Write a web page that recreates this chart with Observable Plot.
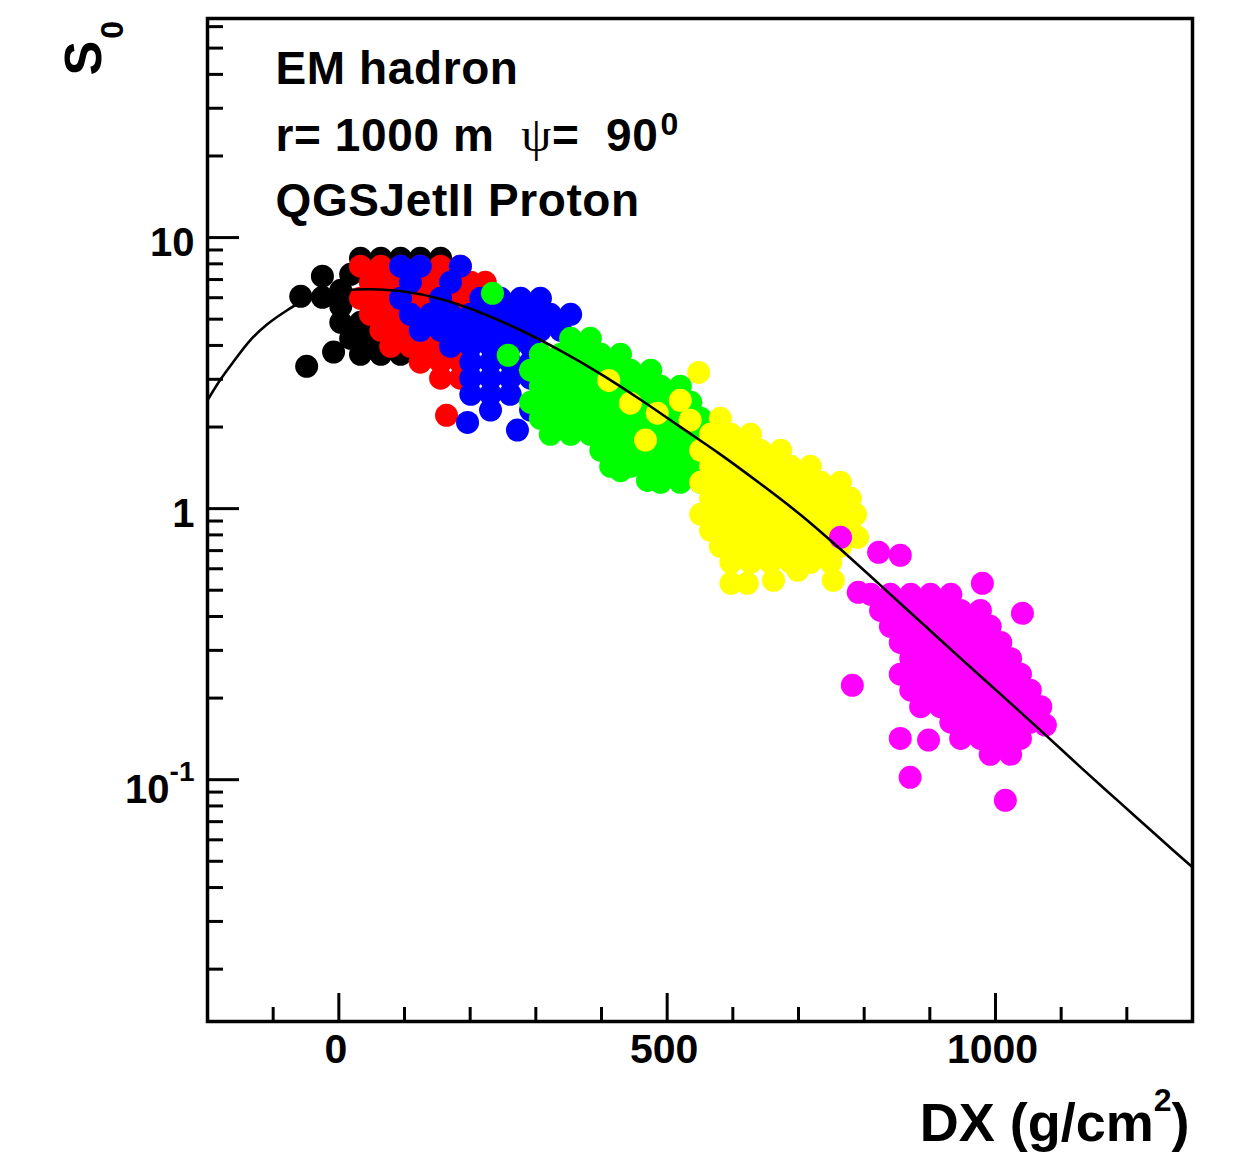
<!DOCTYPE html>
<html><head><meta charset="utf-8">
<script src="https://cdn.jsdelivr.net/npm/d3@7"></script>
<script src="https://cdn.jsdelivr.net/npm/@observablehq/plot@0.6"></script>
<style>
html,body{margin:0;padding:0;background:#fff;}
</style></head><body><div id="chart"></div>
<script>
// ---- data: [DX (g/cm^2), S0] ----
const blackPts = [[-58,6.07],[-25,7.20],[-25,6.02],[-49,3.35],[-8,3.78],
  [33,8.39],[64,8.39],[94,8.39],[124,8.39],[155,8.39],
  [18,7.32],[3,6.39],[3,5.58],[3,4.87],[33,4.87],[18,4.25],[48,4.25],
  [33,3.71],[64,3.71],[94,3.71],[124,3.71]];
const redPts = [[33,7.84],[64,7.84],[94,7.84],[124,7.84],[155,7.84],[185,7.84],
  [48,6.84],[79,6.84],[109,6.84],[140,6.84],[170,6.84],[201,6.84],[223,6.84],
  [33,5.97],[64,5.97],[94,5.97],[124,5.97],[155,5.97],[185,5.97],
  [48,5.21],[79,5.21],[109,5.21],[140,5.21],[170,5.21],
  [64,4.55],[94,4.55],[124,4.55],[155,4.55],[185,4.55],
  [79,3.97],[109,3.97],[140,3.97],[170,3.97],
  [124,3.47],[155,3.47],[185,3.47],[155,3.03],[185,3.03],[164,2.21]];
const bluePts = [[94,7.84],[124,7.84],[185,7.84],[109,6.84],[170,6.84],
  [94,5.97],[155,5.97],[216,5.97],[246,5.97],[277,5.97],[307,5.97],
  [109,5.21],[140,5.21],[170,5.21],[201,5.21],[231,5.21],[261,5.21],[292,5.21],[322,5.21],[353,5.21],
  [124,4.55],[155,4.55],[185,4.55],[216,4.55],[246,4.55],[277,4.55],[307,4.55],[338,4.55],
  [170,3.97],[201,3.97],[231,3.97],[261,3.97],[292,3.97],
  [201,3.47],[231,3.47],[261,3.47],[292,3.47],
  [201,3.03],[231,3.03],[261,3.03],[292,3.03],
  [201,2.64],[231,2.64],[261,2.64],[322,2.64],
  [231,2.31],[292,2.31],[196,2.08],[272,1.95]];
const greenPts = [[234,6.23],[258,3.68],[353,4.25],[383,4.25],
  [307,3.71],[338,3.71],[368,3.71],[399,3.71],[429,3.71],
  [292,3.24],[322,3.24],[353,3.24],[383,3.24],[414,3.24],[444,3.24],[475,3.24],
  [307,2.83],[338,2.83],[368,2.83],[399,2.83],[429,2.83],[459,2.83],[490,2.83],[520,2.83],
  [292,2.467],[322,2.467],[353,2.467],[383,2.467],[414,2.467],[444,2.467],[475,2.467],[505,2.467],[536,2.467],
  [307,2.154],[338,2.154],[368,2.154],[399,2.154],[429,2.154],[459,2.154],[490,2.154],[520,2.154],[551,2.154],
  [322,1.880],[353,1.880],[383,1.880],[414,1.880],[444,1.880],[475,1.880],[505,1.880],[536,1.880],
  [399,1.641],[429,1.641],[459,1.641],[490,1.641],[520,1.641],
  [414,1.433],[444,1.433],[475,1.433],[505,1.433],[536,1.433],
  [490,1.251],[520,1.251],[551,1.251],[429,1.38],[470,1.27]];
const yellowPts = [[411,2.97],[444,2.45],[467,1.79],[485,2.25],[520,2.51],[548,3.18],[535,2.12],
  [581,2.154],[566,1.880],[597,1.880],[627,1.880],
  [551,1.641],[581,1.641],[612,1.641],[642,1.641],[673,1.641],
  [566,1.433],[597,1.433],[627,1.433],[657,1.433],[688,1.433],[718,1.433],
  [551,1.251],[581,1.251],[612,1.251],[642,1.251],[673,1.251],[703,1.251],[734,1.251],[764,1.251],
  [566,1.092],[597,1.092],[627,1.092],[657,1.092],[688,1.092],[718,1.092],[749,1.092],[779,1.092],
  [551,0.953],[581,0.953],[612,0.953],[642,0.953],[673,0.953],[703,0.953],[734,0.953],[764,0.953],[787,0.953],
  [566,0.832],[597,0.832],[627,0.832],[657,0.832],[688,0.832],[718,0.832],[749,0.832],[779,0.832],
  [581,0.726],[612,0.726],[642,0.726],[673,0.726],[703,0.726],[734,0.726],[764,0.726],
  [597,0.634],[627,0.634],[657,0.634],[688,0.634],[718,0.634],[749,0.634],
  [597,0.530],[622,0.530],[662,0.544],[699,0.592],[753,0.544],[790,0.784]];
const magentaPts = [[764,0.784],[782,0.223],[855,0.142],[898,0.140],[870,0.102],[1015,0.0839],
  [980,0.530],[1041,0.411],[822,0.690],[855,0.673],[791,0.491],
  [810,0.483],[840,0.483],[871,0.483],[901,0.483],[932,0.483],
  [825,0.421],[855,0.421],[886,0.421],[916,0.421],[947,0.421],[977,0.421],
  [840,0.368],[871,0.368],[901,0.368],[932,0.368],[962,0.368],[992,0.368],
  [855,0.321],[886,0.321],[916,0.321],[947,0.321],[977,0.321],[1008,0.321],
  [871,0.280],[901,0.280],[932,0.280],[962,0.280],[992,0.280],[1023,0.280],
  [855,0.245],[886,0.245],[916,0.245],[947,0.245],[977,0.245],[1008,0.245],[1038,0.245],
  [871,0.214],[901,0.214],[932,0.214],[962,0.214],[992,0.214],[1023,0.214],[1053,0.214],
  [886,0.186],[916,0.186],[947,0.186],[977,0.186],[1008,0.186],[1038,0.186],[1069,0.186],
  [932,0.163],[962,0.163],[992,0.163],[1023,0.163],[1053,0.163],[1076,0.159],
  [947,0.142],[977,0.142],[1008,0.142],[1038,0.142],
  [992,0.124],[1023,0.124]];
const fitCurve = [[-200,2.510],[-180,3.000],[-160,3.495],[-135,4.179],[-109,4.787],[-81,5.347],[-58,5.771],
  [-28,6.151],[3,6.364],[25,6.431],[48,6.447],[94,6.349],[155,5.932],[216,5.284],[277,4.549],[338,3.818],
  [399,3.135],[459,2.527],[520,2.002],[581,1.586],[642,1.235],[703,0.949],[764,0.708],[825,0.521],
  [886,0.382],[947,0.2803],[1008,0.2064],[1069,0.1517],[1129,0.1115],[1190,0.0821],[1251,0.0605],[1300,0.0475]];

const seriesColors = ["#000000","#ff0000","#0000ff","#00ff00","#ffff00","#ff00ff"];
const seriesData = [blackPts, redPts, bluePts, greenPts, yellowPts, magentaPts];

const xMajor = [0, 500, 1000];
const xMinor = [-100, 100, 200, 300, 400, 600, 700, 800, 900, 1100, 1200];
const xTickLabels = ["0", "500", "1000"];
const yMajor = [0.1, 1, 10];
const yMinor = [0.02,0.03,0.04,0.05,0.06,0.07,0.08,0.09,0.2,0.3,0.4,0.5,0.6,0.7,0.8,0.9,2,3,4,5,6,7,8,9,20,30,40,50,60];
const yTickLabels = ["10^{-1}", "1", "10"];
const annoLines = ["EM hadron", "r= 1000 m  ψ=  90^{0}", "QGSJetII Proton"];
const xTitle = "DX (g/cm^{2})";
const yTitle = "S_{0}";

// ---- layout ----
const W = 1239, H = 1156, mL = 207, mR = 47, mT = 18, mB = 135;
const plotW = W - mL - mR, plotH = H - mT - mB;
const FONT = "'Liberation Sans', Arial, Helvetica, sans-serif";

const marks = [];
seriesData.forEach((pts, i) => {
  marks.push(Plot.dot(pts, {x: d => d[0], y: d => d[1], r: 11.5, fill: seriesColors[i], stroke: null}));
});
marks.push(Plot.line(fitCurve, {x: d => d[0], y: d => d[1], curve: "catmull-rom", stroke: "black", strokeWidth: 2.6}));
marks.push(Plot.tickX(xMajor, {x: d => d, insetTop: plotH - 28, stroke: "black", strokeWidth: 3}));
marks.push(Plot.tickX(xMinor, {x: d => d, insetTop: plotH - 14, stroke: "black", strokeWidth: 3}));
marks.push(Plot.tickY(yMajor, {y: d => d, insetRight: plotW - 32, stroke: "black", strokeWidth: 3}));
marks.push(Plot.tickY(yMinor, {y: d => d, insetRight: plotW - 16, stroke: "black", strokeWidth: 3}));
marks.push(Plot.frame({stroke: "black", strokeWidth: 3.5}));
marks.push(Plot.axisX({ticks: xMajor, tickSize: 0, tickPadding: 12, dx: -3,
  tickFormat: d => xTickLabels[xMajor.indexOf(d)], fontSize: 41, fontWeight: "bold", label: null}));
marks.push(Plot.axisY({ticks: yMajor, tickSize: 0, tickPadding: 13, dy: 6,
  tickFormat: d => yTickLabels[yMajor.indexOf(d)], fontSize: 40, fontWeight: "bold", label: null}));
const annoDy = [65, 132, 197];
annoLines.forEach((s, i) => {
  marks.push(Plot.text([s], {text: d => d, frameAnchor: "top-left", dx: 68, dy: annoDy[i],
    textAnchor: "start", lineAnchor: "bottom", fontSize: 46, fontWeight: "bold"}));
});
marks.push(Plot.text([xTitle], {text: d => d, frameAnchor: "bottom-right", dx: -3, dy: 119,
  textAnchor: "end", lineAnchor: "bottom", fontSize: 54, fontWeight: "bold"}));
marks.push(Plot.text([yTitle], {text: d => d, frameAnchor: "top-left", dx: -107, dy: 57, rotate: -90,
  textAnchor: "start", lineAnchor: "bottom", fontSize: 52, fontWeight: "bold"}));

const chart = Plot.plot({
  width: W, height: H, marginLeft: mL, marginRight: mR, marginTop: mT, marginBottom: mB,
  x: {domain: [-200, 1300]},
  y: {type: "log", domain: [0.01282, 64.3]},
  style: {fontFamily: FONT, background: "white", color: "black"},
  marks
});
document.getElementById("chart").appendChild(chart);

// ---- rich text (superscripts, subscripts, Greek symbol font) ----
const NS = "http://www.w3.org/2000/svg";
function setRich(el, str, o) {
  while (el.firstChild) el.removeChild(el.firstChild);
  el.style.whiteSpace = "pre";
  if (o.letterSpacing) el.style.letterSpacing = o.letterSpacing + "px";
  const parts = str.split(/(\^\{[^}]*\}|_\{[^}]*\}|ψ)/).filter(s => s.length);
  const base = o.baseDy || 0;
  let cur = 0;
  parts.forEach((p) => {
    const t = document.createElementNS(NS, "tspan");
    let target = base;
    if (p.startsWith("^{")) {
      t.textContent = p.slice(2, -1); t.setAttribute("font-size", o.supSize); target = base - o.supRaise;
      if (o.supDx) t.setAttribute("dx", o.supDx);
    } else if (p.startsWith("_{")) {
      t.textContent = p.slice(2, -1); t.setAttribute("font-size", o.subSize); target = base + o.subDrop;
      if (o.subDx) t.setAttribute("dx", o.subDx);
    } else if (p === "ψ") {
      t.textContent = p; t.setAttribute("font-family", "'Liberation Serif', 'DejaVu Serif', serif");
      t.setAttribute("font-weight", "normal"); t.setAttribute("font-size", o.serifSize || 46);
    } else { t.textContent = p; }
    if (target !== cur) { t.setAttribute("dy", target - cur); cur = target; }
    el.appendChild(t);
  });
}
const richOpts = new Map([
  [yTickLabels[0], {supSize: 28, supRaise: 22, baseDy: 5}],
  [annoLines[0], {letterSpacing: 0.6}],
  [annoLines[1], {supSize: 32, supRaise: 16, supDx: 2, serifSize: 48, letterSpacing: 0.6}],
  [annoLines[2], {letterSpacing: 0.6}],
  [xTitle, {supSize: 32, supRaise: 30}],
  [yTitle, {subSize: 32, subDrop: 22, subDx: 2}]
]);
chart.querySelectorAll("text").forEach(t => {
  const s = t.textContent;
  if (richOpts.has(s)) setRich(t, s, richOpts.get(s));
});
</script></body></html>
